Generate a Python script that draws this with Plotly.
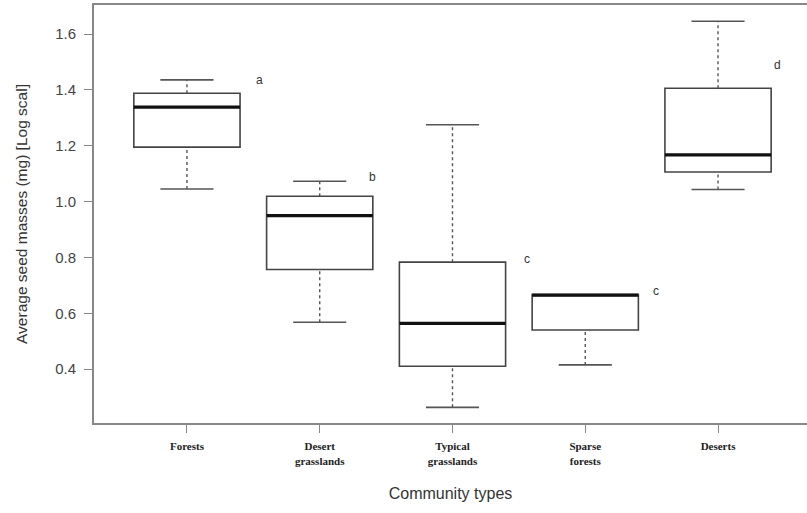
import plotly.graph_objects as go

# ---- data ----
categories = ["Forests", "Desert<br>grasslands", "Typical<br>grasslands", "Sparse<br>forests", "Deserts"]
lower_whisker = [1.045, 0.568, 0.263, 0.415, 1.043]
q1_values = [1.195, 0.757, 0.410, 0.540, 1.106]
median_values = [1.338, 0.950, 0.564, 0.665, 1.167]
q3_values = [1.388, 1.019, 0.783, 0.667, 1.406]
upper_whisker = [1.436, 1.073, 1.275, 0.667, 1.646]
group_letters = ["a", "b", "c", "c", "d"]
letter_y = [1.436, 1.089, 0.793, 0.679, 1.489]
letter_dx = [0.55, 0.40, 0.56, 0.53, 0.45]
y_ticks = [0.4, 0.6, 0.8, 1.0, 1.2, 1.4, 1.6]

xpos = list(range(len(categories)))
box_w = 0.8
cap_half = 0.2
box_color = "#444444"

fig = go.Figure()

# boxes (no built-in whiskers: fences at box edges)
fig.add_trace(go.Box(
    x=xpos, q1=q1_values, median=median_values, q3=q3_values,
    lowerfence=q1_values, upperfence=q3_values,
    width=box_w, fillcolor="white",
    line=dict(color=box_color, width=1.6),
    boxpoints=False, showlegend=False, hoverinfo="skip",
))

# dashed whiskers
wx, wy = [], []
for i in xpos:
    wx += [i, i, None, i, i, None]
    wy += [lower_whisker[i], q1_values[i], None, q3_values[i], upper_whisker[i], None]
fig.add_trace(go.Scatter(x=wx, y=wy, mode="lines",
                         line=dict(color="#555555", width=1.4, dash="3px,3px"),
                         showlegend=False, hoverinfo="skip"))

# whisker caps
cx, cy = [], []
for i in xpos:
    if upper_whisker[i] > q3_values[i]:
        cx += [i - cap_half, i + cap_half, None]
        cy += [upper_whisker[i], upper_whisker[i], None]
    if lower_whisker[i] < q1_values[i]:
        cx += [i - cap_half, i + cap_half, None]
        cy += [lower_whisker[i], lower_whisker[i], None]
fig.add_trace(go.Scatter(x=cx, y=cy, mode="lines",
                         line=dict(color="#555555", width=1.6),
                         showlegend=False, hoverinfo="skip"))

# thick medians
mx, my = [], []
for i in xpos:
    mx += [i - box_w / 2, i + box_w / 2, None]
    my += [median_values[i], median_values[i], None]
fig.add_trace(go.Scatter(x=mx, y=my, mode="lines",
                         line=dict(color="#111111", width=3.2),
                         showlegend=False, hoverinfo="skip"))

# significance letters
for i in xpos:
    fig.add_annotation(x=i + letter_dx[i], y=letter_y[i], text=group_letters[i],
                       showarrow=False, xanchor="center", yanchor="middle",
                       font=dict(family="Liberation Sans, Arial, sans-serif", size=12, color="#333333"))

fig.update_layout(
    width=807, height=513,
    margin=dict(l=94, r=0, t=5, b=90),
    plot_bgcolor="white", paper_bgcolor="white",
    font=dict(family="Liberation Sans, Arial, sans-serif", color="#333333"),
    xaxis=dict(
        tickmode="array", tickvals=xpos, ticktext=categories,
        range=[-0.70, 4.67],
        showline=True, linecolor="#888888", linewidth=2, mirror=True,
        ticks="outside", ticklen=8, tickcolor="#888888", tickwidth=1,
        ticklabelstandoff=4,
        tickfont=dict(family="Liberation Serif, Times New Roman, serif", size=11, color="#222222",
                      weight="bold"),
        showgrid=False, zeroline=False,
        title=dict(text="Community types", standoff=22,
                   font=dict(family="Liberation Sans, Arial, sans-serif", size=16, color="#333333")),
    ),
    yaxis=dict(
        range=[0.207, 1.704],
        tickmode="array", tickvals=y_ticks, ticktext=[f"{v:.1f}" for v in y_ticks],
        showline=True, linecolor="#888888", linewidth=2,
        ticks="outside", ticklen=8, tickcolor="#888888", tickwidth=1,
        ticklabelstandoff=5,
        tickfont=dict(size=15, color="#444444"),
        showgrid=False, zeroline=False,
        title=dict(text="Average seed masses (mg) [Log scal]", standoff=24,
                   font=dict(size=15.5, color="#333333")),
    ),
)

fig.write_html("out.html")
